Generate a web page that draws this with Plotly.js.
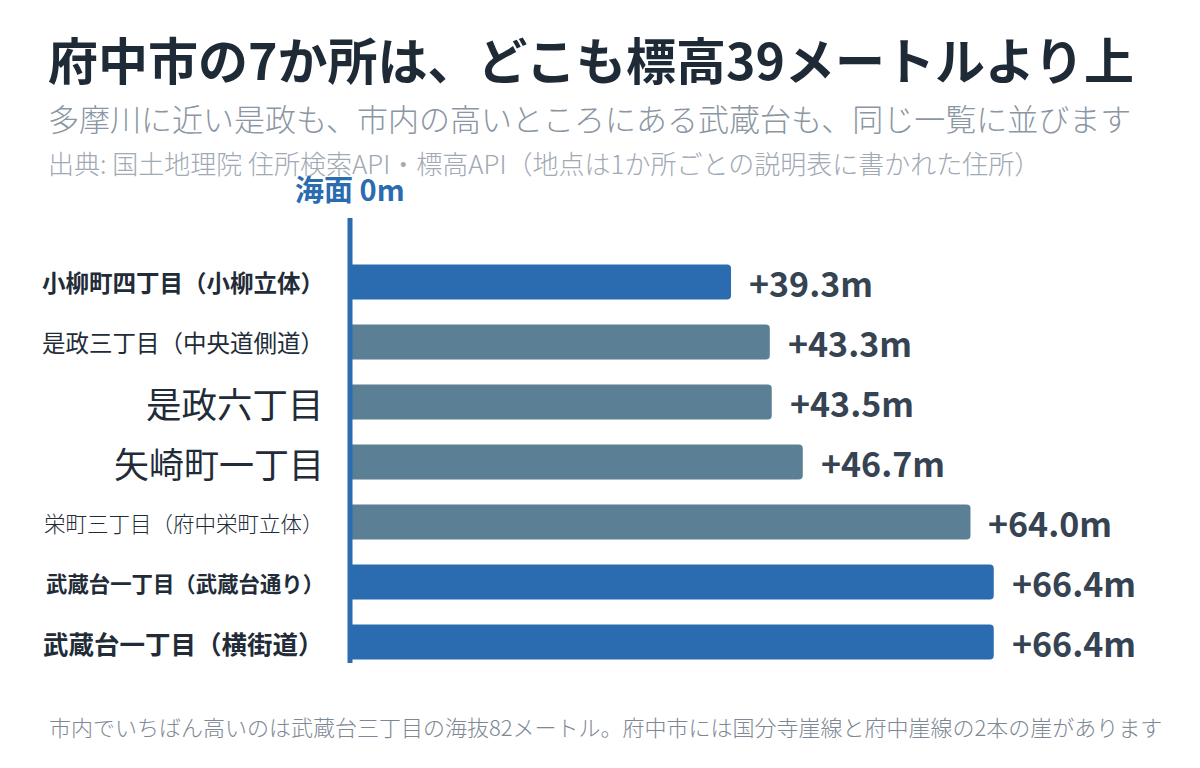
<!DOCTYPE html>
<html>
<head>
<meta charset="utf-8">
<script src="https://cdn.plot.ly/plotly-3.0.1.min.js"></script>
<style>
  html, body { margin: 0; padding: 0; background: #fff; }
  #chart { width: 1200px; height: 768px; }
</style>
</head>
<body>
<div id="chart"></div>
<script>
// 地点（上から順）
const places = [
    "小柳町四丁目（小柳立体）",
    "是政三丁目（中央道側道）",
    "是政六丁目",
    "矢崎町一丁目",
    "栄町三丁目（府中栄町立体）",
    "武蔵台一丁目（武蔵台通り）",
    "武蔵台一丁目（横街道）"
];
// 標高 (m)
const heights = [39.3, 43.3, 43.5, 46.7, 64.0, 66.4, 66.4];
// 強調する地点
const highlight = [true, false, false, false, false, true, true];
// ラベルの見た目
const labelSize = [23.5, 23.5, 35.5, 35, 21.5, 21.4, 25.5];
const labelWeight = [700, 400, 400, 400, 300, 700, 700];

const BLUE = "#2b6cb0", GREY = "#5b7f95";
const FONT = "Noto Sans CJK JP, sans-serif";

const idx = places.map((p, i) => i);

const trace = {
    type: "bar",
    orientation: "h",
    x: heights,
    y: idx,
    width: 0.58,
    marker: { color: highlight.map(h => h ? BLUE : GREY), cornerradius: 4, line: { width: 0 } },
    hoverinfo: "skip"
};

const annotations = [];
places.forEach((p, i) => {
    annotations.push({
        x: 0, y: i, xref: "x", yref: "y", xanchor: "right", yanchor: "middle",
        xshift: -24, showarrow: false, text: p,
        font: { family: FONT, size: labelSize[i], weight: labelWeight[i], color: "#222c38" }
    });
    annotations.push({
        x: heights[i], y: i, xref: "x", yref: "y", xanchor: "left", yanchor: "middle",
        xshift: 16, showarrow: false, text: "+" + heights[i].toFixed(1) + "m",
        font: { family: FONT, size: 34, weight: 700, color: "#364352" }
    });
});

// 海面ラベル
annotations.push({
    x: 0, y: 1, xref: "x", yref: "paper", xanchor: "center", yanchor: "bottom",
    yshift: 7, showarrow: false, text: "海面 0m",
    font: { family: FONT, size: 29, weight: 700, color: BLUE }
});
// サブタイトル・出典・注記
annotations.push({
    x: -0.374, y: 1.225, xref: "paper", yref: "paper", xanchor: "left", yanchor: "middle",
    showarrow: false, text: "多摩川に近い是政も、市内の高いところにある武蔵台も、同じ一覧に並びます",
    font: { family: FONT, size: 31, weight: 300, color: "#8a96a3" }
});
annotations.push({
    x: -0.374, y: 1.124, xref: "paper", yref: "paper", xanchor: "left", yanchor: "middle",
    showarrow: false, text: "出典: 国土地理院 住所検索API・標高API（地点は1か所ごとの説明表に書かれた住所）",
    font: { family: FONT, size: 26, weight: 300, color: "#a0a9b4" }
});
annotations.push({
    x: -0.372, y: -0.142, xref: "paper", yref: "paper", xanchor: "left", yanchor: "middle",
    showarrow: false, text: "市内でいちばん高いのは武蔵台三丁目の海抜82メートル。府中市には国分寺崖線と府中崖線の2本の崖があります",
    font: { family: FONT, size: 22, weight: 300, color: "#7d8894" }
});

const layout = {
    width: 1200, height: 768,
    paper_bgcolor: "#fff", plot_bgcolor: "#fff",
    margin: { l: 345, r: 55, t: 218, b: 105 },
    showlegend: false,
    title: {
        text: "府中市の7か所は、どこも標高39メートルより上",
        xref: "container", x: 48 / 1200, xanchor: "left",
        yref: "container", y: 1 - 62 / 768, yanchor: "middle",
        font: { family: FONT, size: 50, weight: 700, color: "#1f2a37" }
    },
    xaxis: { range: [-0.516, 82], visible: false, fixedrange: true },
    yaxis: { range: [6.35, -1.067], visible: false, fixedrange: true },
    shapes: [{
        type: "line", xref: "x", yref: "paper", x0: 0, x1: 0, y0: 0, y1: 1,
        line: { color: BLUE, width: 5 }, layer: "above"
    }],
    annotations: annotations
};

Plotly.newPlot("chart", [trace], layout, { displayModeBar: false, staticPlot: true });
</script>
</body>
</html>
